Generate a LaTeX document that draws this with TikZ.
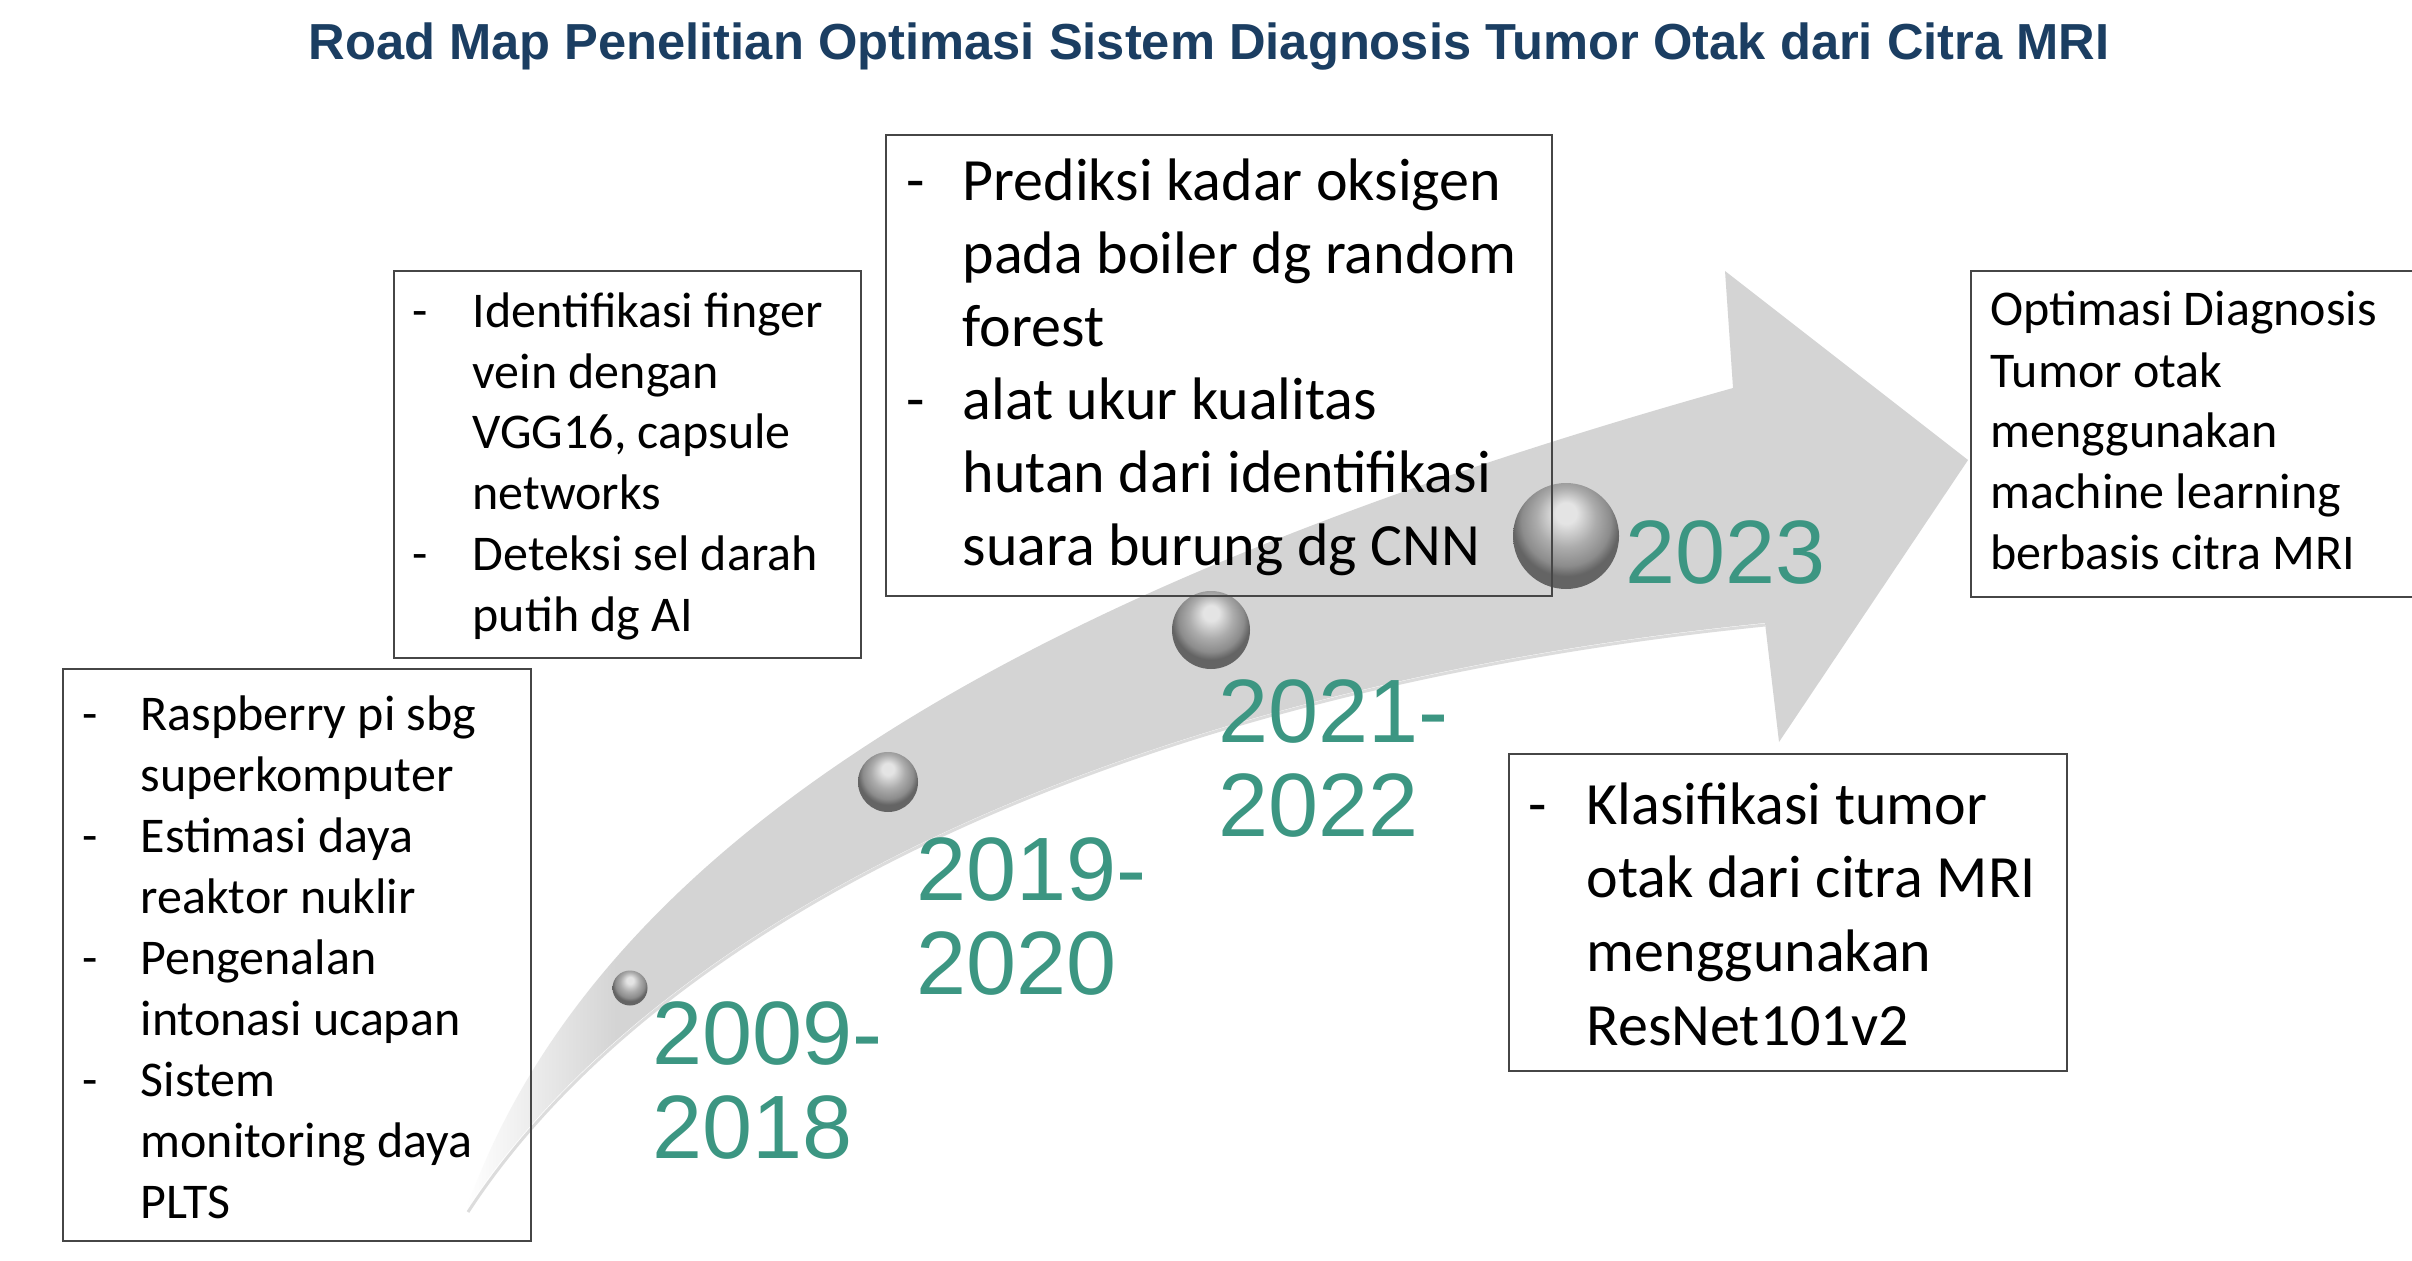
\documentclass[tikz,border=0pt]{standalone}
\usepackage{fontspec}
\setmainfont{Carlito}
\newfontfamily\arialf{Liberation Sans}
\usetikzlibrary{fit}
\definecolor{titleblue}{RGB}{27,62,98}
\definecolor{yearteal}{RGB}{60,150,130}
\definecolor{arrowgray}{RGB}{212,212,212}
\definecolor{boxline}{RGB}{70,70,70}
\definecolor{ballhi}{RGB}{228,228,228}
\definecolor{ballmid}{RGB}{172,172,172}
\definecolor{balllow}{RGB}{140,140,140}
\definecolor{balldark}{RGB}{100,100,100}
\pgfdeclarehorizontalshading{arrowshade}{100bp}{color(0bp)=(white); color(25bp)=(white); color(30bp)=(arrowgray); color(100bp)=(arrowgray)}
\pgfdeclareradialshading{ballshade}{\pgfpoint{0bp}{12bp}}{color(0bp)=(ballhi); color(5bp)=(ballhi); color(14bp)=(ballmid); color(21bp)=(balllow); color(25bp)=(balldark); color(50bp)=(balldark)}
\tikzset{
  boxst/.style={draw=boxline, line width=0.7pt, inner sep=0pt},
  txt/.style={anchor=base west, inner sep=0pt, text=black},
  yr/.style={anchor=base west, inner sep=0pt, text=yearteal, font=\arialf\fontsize{27}{28.2}\selectfont},
  ballst/.style={circle, inner sep=0pt, shading=ballshade},
}
\begin{document}
\begin{tikzpicture}[x=0.3pt,y=-0.3pt]
\useasboundingbox (0,0) rectangle (2412,1260);
\clip (0,0) rectangle (2412,1260);
\fill[white] (0,0) rectangle (2412,1260);
% title
\node[anchor=base, inner sep=0pt, text=titleblue, font=\arialf\bfseries\fontsize{15.2}{17}\selectfont] (title) at (1209,60) {Road Map Penelitian Optimasi Sistem Diagnosis Tumor Otak dari Citra MRI};
% arrow
\path[shading=arrowshade] (466,1210) .. controls (610,800) and (1120,560) .. (1733,388) -- (1725,271) -- (1968,460) -- (1779,742) -- (1765,623) .. controls (1100,690) and (650,930) .. (466,1210) -- cycle;
\draw[gray!60, line width=0.9pt, opacity=0.45] (1765,625) .. controls (1100,692) and (650,932) .. (468,1212);
% balls
\node[ballst, minimum size=10.5pt] (ball1) at (630,988) {};
\node[ballst, minimum size=18pt] (ball2) at (888,782) {};
\node[ballst, minimum size=23.4pt] (ball3) at (1211,630) {};
\node[ballst, minimum size=31.8pt] (ball4) at (1566,536) {};
% boxes
\coordinate (b1a) at (63,669);  \coordinate (b1b) at (531,1241);
\coordinate (b2a) at (394,271); \coordinate (b2b) at (861,658);
\coordinate (b3a) at (886,135); \coordinate (b3b) at (1552,596);
\coordinate (b4a) at (1971,271); \coordinate (b4b) at (2440,597);
\coordinate (b5a) at (1509,754); \coordinate (b5b) at (2067,1071);
\node[boxst, fit=(b1a)(b1b)] (box1) {};
\node[boxst, fit=(b2a)(b2b)] (box2) {};
\node[boxst, fit=(b3a)(b3b)] (box3) {};
\node[boxst, fit=(b4a)(b4b)] (box4) {};
\node[boxst, fit=(b5a)(b5b)] (box5) {};
% box texts
\node[txt, font=\fontsize{15}{18.3}\selectfont] (t1) at (82,730) {\begin{tabular}[t]{@{}p{17.4pt}@{}l@{}}
-&Raspberry pi sbg\\ &superkomputer\\ -&Estimasi daya\\ &reaktor nuklir\\ -&Pengenalan\\ &intonasi ucapan\\ -&Sistem\\ &monitoring daya\\ &PLTS\end{tabular}};
\node[txt, font=\fontsize{15}{18.3}\selectfont] (t2) at (412,327) {\begin{tabular}[t]{@{}p{18pt}@{}l@{}}
-&Identifikasi finger\\ &vein dengan\\ &VGG16, capsule\\ &networks\\ -&Deteksi sel darah\\ &putih dg AI\end{tabular}};
\node[txt, font=\fontsize{18}{21.9}\selectfont] (t3) at (906,201) {\begin{tabular}[t]{@{}p{16.8pt}@{}l@{}}
-&Prediksi kadar oksigen\\ &pada boiler dg random\\ &forest\\ -&alat ukur kualitas\\ &hutan dari identifikasi\\ &suara burung dg CNN\end{tabular}};
\node[txt, font=\fontsize{15}{18.3}\selectfont] (t4) at (1990,326) {\begin{tabular}[t]{@{}l@{}}
Optimasi Diagnosis\\ Tumor otak\\ menggunakan\\ machine learning\\ berbasis citra MRI\end{tabular}};
\node[txt, font=\fontsize{18}{22.1}\selectfont] (t5) at (1528,824) {\begin{tabular}[t]{@{}p{17.4pt}@{}l@{}}
-&Klasifikasi tumor\\ &otak dari citra MRI\\ &menggunakan\\ &ResNet101v2\end{tabular}};
% years
\node[yr] (y1) at (652,1064) {\begin{tabular}[t]{@{}l@{}}2009-\\2018\end{tabular}};
\node[yr] (y2) at (916,900) {\begin{tabular}[t]{@{}l@{}}2019-\\2020\end{tabular}};
\node[yr] (y3) at (1218,742) {\begin{tabular}[t]{@{}l@{}}2021-\\2022\end{tabular}};
\node[yr] (y4) at (1625,583) {2023};
\end{tikzpicture}
\end{document}
